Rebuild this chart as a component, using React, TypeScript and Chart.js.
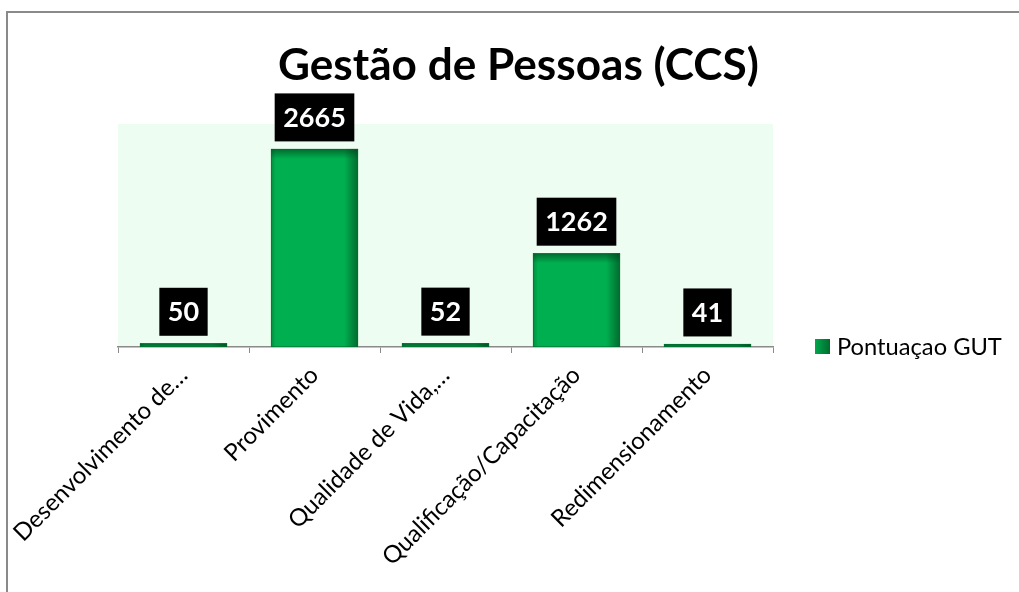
import React, { useEffect, useRef } from 'react';
import { Chart, registerables } from 'chart.js';

Chart.register(...registerables);

const categories = [
  'Desenvolvimento de…',
  'Provimento',
  'Qualidade de Vida,…',
  'Qualificação/Capacitação',
  'Redimensionamento',
];
const seriesName = 'Pontuaçao GUT';
const values = [50, 2665, 52, 1262, 41];
const titleText = 'Gestão de Pessoas (CCS)';
const yMin = 0;
const yMax = 3000;

const FONT = 'Lato, "Open Sans", sans-serif';

const fitFont = (ctx: CanvasRenderingContext2D, text: string, weight: string, width: number) => {
  ctx.font = `${weight} 100px ${FONT}`;
  const w = ctx.measureText(text).width;
  return (100 * width) / w;
};

const plotBg = {
  id: 'plotBg',
  beforeDraw(chart: any) {
    const { ctx, chartArea } = chart;
    ctx.save();
    ctx.fillStyle = '#EEFDF1';
    ctx.fillRect(chartArea.left, chartArea.top, chartArea.right - chartArea.left, chartArea.bottom - chartArea.top);
    ctx.restore();
  },
};

const barShade = {
  id: 'barShade',
  afterDatasetsDraw(chart: any) {
    const { ctx } = chart;
    const meta = chart.getDatasetMeta(0);
    ctx.save();
    meta.data.forEach((bar: any) => {
      const left = bar.x - bar.width / 2;
      const right = bar.x + bar.width / 2;
      const top = bar.y;
      const bottom = bar.base;
      const h = bottom - top;
      const rw = 14;
      let g = ctx.createLinearGradient(right - rw, 0, right, 0);
      g.addColorStop(0, 'rgba(0,60,25,0)');
      g.addColorStop(1, 'rgba(0,60,25,0.6)');
      ctx.fillStyle = g;
      ctx.fillRect(right - rw, top, rw, h);
      const lw = 5;
      g = ctx.createLinearGradient(left, 0, left + lw, 0);
      g.addColorStop(0, 'rgba(0,60,25,0.3)');
      g.addColorStop(1, 'rgba(0,60,25,0)');
      ctx.fillStyle = g;
      ctx.fillRect(left, top, lw, h);
      const th = Math.min(10, h);
      g = ctx.createLinearGradient(0, top, 0, top + 10);
      g.addColorStop(0, 'rgba(0,60,25,0.6)');
      g.addColorStop(1, 'rgba(0,60,25,0)');
      ctx.fillStyle = g;
      ctx.fillRect(left, top, right - left, th);
      ctx.strokeStyle = 'rgba(0,110,50,0.6)';
      ctx.lineWidth = 1;
      ctx.strokeRect(left + 0.5, top + 0.5, right - left - 1, h - 1);
    });
    ctx.restore();
  },
};

const dataLabels = {
  id: 'dataLabels',
  afterDatasetsDraw(chart: any) {
    const { ctx } = chart;
    const meta = chart.getDatasetMeta(0);
    const data = chart.data.datasets[0].data;
    ctx.save();
    ctx.font = `bold 27px ${FONT}`;
    ctx.textAlign = 'center';
    ctx.textBaseline = 'middle';
    meta.data.forEach((bar: any, i: number) => {
      const txt = String(data[i]);
      const tw = ctx.measureText(txt).width;
      const bw = tw + 17;
      const bh = 48;
      const bottom = bar.y - 7.5;
      ctx.fillStyle = '#000000';
      ctx.fillRect(bar.x - bw / 2, bottom - bh, bw, bh);
      ctx.fillStyle = '#FFFFFF';
      ctx.fillText(txt, bar.x, bottom - bh / 2 + 1);
    });
    ctx.restore();
  },
};

const titleAndLegend = {
  id: 'titleAndLegend',
  afterDraw(chart: any) {
    const { ctx } = chart;
    ctx.save();
    const ts = fitFont(ctx, titleText, 'bold', 481);
    ctx.font = `bold ${ts}px ${FONT}`;
    ctx.fillStyle = '#000000';
    ctx.textAlign = 'left';
    ctx.textBaseline = 'alphabetic';
    ctx.fillText(titleText, 278, 80);
    const sq = ctx.createLinearGradient(815, 0, 830, 0);
    sq.addColorStop(0, '#00A84C');
    sq.addColorStop(1, '#006B2E');
    ctx.fillStyle = sq;
    ctx.fillRect(815, 339, 15, 15);
    const ls = fitFont(ctx, seriesName, 'normal', 165);
    ctx.font = `normal ${ls}px ${FONT}`;
    ctx.fillStyle = '#000000';
    ctx.fillText(seriesName, 837, 355);
    ctx.restore();
  },
};

export default function App() {
  const ref = useRef<HTMLCanvasElement | null>(null);

  useEffect(() => {
    if (!ref.current) return;
    const chart = new Chart(ref.current, {
      type: 'bar',
      data: {
        labels: categories,
        datasets: [
          {
            label: seriesName,
            data: values,
            backgroundColor: '#00B050',
            borderWidth: 0,
            barPercentage: 0.665,
            categoryPercentage: 1,
          },
        ],
      },
      options: {
        responsive: false,
        animation: false,
        layout: { padding: { left: 118, right: 246, top: 124, bottom: 0 } },
        plugins: {
          legend: { display: false },
          title: { display: false },
          tooltip: { enabled: false },
        },
        scales: {
          x: {
            afterFit: (scale: any) => {
              scale.height = 245;
              scale.paddingLeft = 0;
              scale.paddingRight = 0;
            },
            grid: {
              display: true,
              offset: true,
              drawOnChartArea: false,
              drawTicks: true,
              tickLength: 6,
              color: '#8A8A8A',
              lineWidth: 1,
            },
            border: { display: true, color: '#8A8A8A', width: 1.5 },
            ticks: {
              minRotation: 45,
              maxRotation: 45,
              autoSkip: false,
              color: '#000000',
              padding: 8,
              font: { family: FONT, size: 24 },
            },
          },
          y: {
            display: false,
            min: yMin,
            max: yMax,
          },
        },
      },
      plugins: [plotBg, barShade, dataLabels, titleAndLegend],
    });
    return () => chart.destroy();
  }, []);

  return (
    <div style={{ position: 'absolute', left: 0, top: 0, width: 1019, height: 592, background: '#fff', overflow: 'hidden' }}>
      <canvas ref={ref} width={1019} height={592} style={{ position: 'absolute', left: 0, top: 0 }} />
      <div
        style={{
          position: 'absolute',
          left: 6,
          top: 11,
          width: 1100,
          height: 700,
          borderLeft: '2px solid #8A8A8A',
          borderTop: '2px solid #8A8A8A',
          pointerEvents: 'none',
        }}
      />
    </div>
  );
}
